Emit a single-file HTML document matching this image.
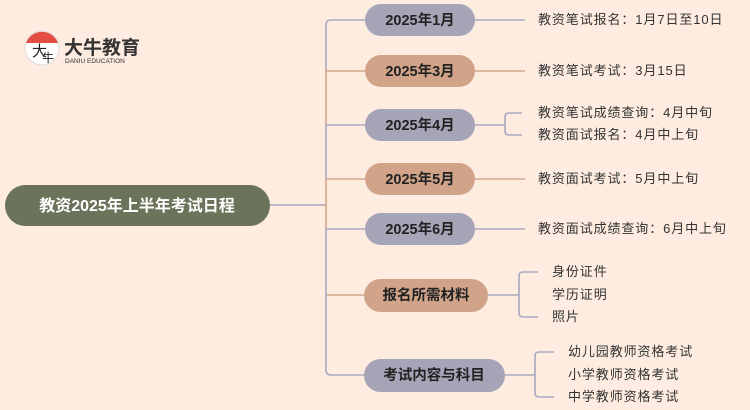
<!DOCTYPE html>
<html><head><meta charset="utf-8"><style>
html,body{margin:0;padding:0;background:#fdecdf;}
svg{display:block;}
text{font-family:"Liberation Sans","Noto Sans CJK SC",sans-serif;}
</style></head><body>
<svg width="750" height="410" viewBox="0 0 750 410" xmlns="http://www.w3.org/2000/svg">
<rect width="750" height="410" fill="#fdecdf"/>
<circle cx="42" cy="48" r="17" fill="#fff" stroke="#ddd"/>
<path d="M26 43 A17 17 0 0 1 58 43 Z" fill="#e03a30" opacity="0.9"/>
<text x="32" y="56" font-size="15" fill="#222">大</text>
<text x="42" y="62" font-size="12" fill="#222">牛</text>
<text x="64" y="54" font-size="19" font-weight="bold" fill="#333">大牛教育</text>
<text x="65" y="63" font-size="6.5" fill="#333">DANIU EDUCATION</text>
<g fill="none" stroke-width="1.6">
<path d="M270 205 H326" stroke="#a9a9c0"/>
<path d="M365 20 H331 Q326 20 326 25 V71" stroke="#a9a9c0"/>
<path d="M365 71 H326 V125" stroke="#d4a78b"/>
<path d="M365 125 H326 V179" stroke="#a9a9c0"/>
<path d="M365 179 H326 V229" stroke="#d4a78b"/>
<path d="M365 229 H326 V295" stroke="#a9a9c0"/>
<path d="M365 295 H326" stroke="#d4a78b"/>
<path d="M326 295 V370 Q326 375 331 375 H365" stroke="#a9a9c0"/>
<path d="M475 20 H525" stroke="#a9a9c0"/>
<path d="M475 71 H525" stroke="#d4a78b"/>
<path d="M475 125 H505 M522 113 H509 Q505 113 505 117 V131 Q505 135 509 135 H522" stroke="#a9a9c0"/>
<path d="M475 179 H525" stroke="#d4a78b"/>
<path d="M475 229 H525" stroke="#a9a9c0"/>
<path d="M488 295 H519 M538 272 H523 Q519 272 519 276 V313 Q519 317 523 317 H538" stroke="#a9a9c0"/>
<path d="M505 375 H535 M554 352 H539 Q535 352 535 356 V393 Q535 397 539 397 H554" stroke="#a9a9c0"/>
</g>
<rect x="5" y="185" width="265" height="41" rx="20.5" fill="#6b735a"/>
<text x="137" y="211" font-size="16" font-weight="bold" fill="#fff" text-anchor="middle">教资2025年上半年考试日程</text>
<g font-size="14.5" font-weight="bold" fill="#222" text-anchor="middle">
<rect x="365" y="4" width="110" height="32" rx="16" fill="#a6a5b8"/><text x="420" y="25">2025年1月</text>
<rect x="365" y="55" width="110" height="32" rx="16" fill="#d1a489"/><text x="420" y="76">2025年3月</text>
<rect x="365" y="109" width="110" height="32" rx="16" fill="#a6a5b8"/><text x="420" y="130">2025年4月</text>
<rect x="365" y="163" width="110" height="32" rx="16" fill="#d1a489"/><text x="420" y="184">2025年5月</text>
<rect x="365" y="213" width="110" height="32" rx="16" fill="#a6a5b8"/><text x="420" y="234">2025年6月</text>
<rect x="364" y="279" width="124" height="33" rx="16.5" fill="#d1a489"/><text x="426" y="300">报名所需材料</text>
<rect x="364" y="359" width="141" height="33" rx="16.5" fill="#a6a5b8"/><text x="434" y="380">考试内容与科目</text>
</g>
<g font-size="13" fill="#333" letter-spacing="0.9">
<text x="538" y="24">教资笔试报名：1月7日至10日</text>
<text x="538" y="75">教资笔试考试：3月15日</text>
<text x="538" y="117">教资笔试成绩查询：4月中旬</text>
<text x="538" y="139">教资面试报名：4月中上旬</text>
<text x="538" y="183">教资面试考试：5月中上旬</text>
<text x="538" y="233">教资面试成绩查询：6月中上旬</text>
<text x="552" y="276">身份证件</text>
<text x="552" y="299">学历证明</text>
<text x="552" y="321">照片</text>
<text x="568" y="356">幼儿园教师资格考试</text>
<text x="568" y="379">小学教师资格考试</text>
<text x="568" y="401">中学教师资格考试</text>
</g>
</svg>
</body></html>
